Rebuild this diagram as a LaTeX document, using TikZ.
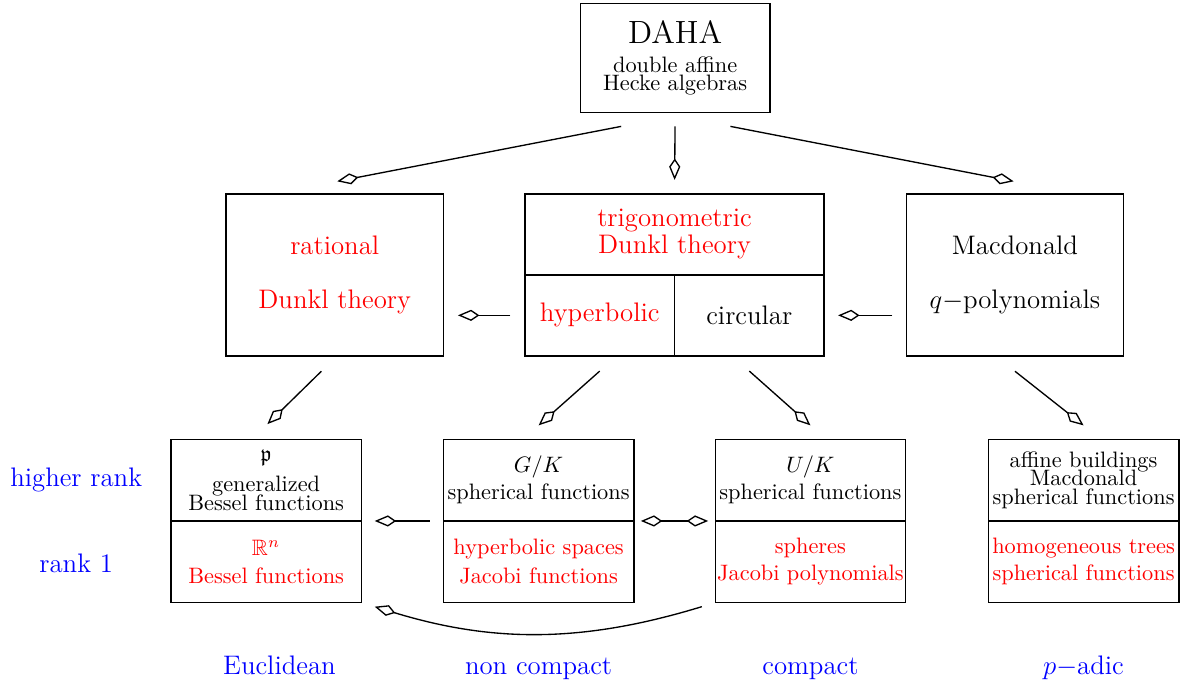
\documentclass[12pt,tikz,border=0pt]{standalone}
\usepackage{amssymb}
\usetikzlibrary{arrows.meta,positioning}

\tikzset{
  tipk/.tip={Kite[open,length=9.6pt,width=5pt,inset=3.7pt]},
  incl/.style={-tipk},
  gap/.style={shorten <=#1, shorten >=#1},
  box/.style={draw, inner sep=0pt, outer sep=0pt, align=center},
  bigbox/.style={box, minimum width=3.42cm, minimum height=2.55cm},
  halfbox/.style={box, font=\footnotesize, minimum width=3cm, minimum height=1.285cm},
  cell/.style={inner sep=0pt, outer sep=0pt, minimum width=2.355cm, minimum height=1.275cm},
  lbl/.style={text=blue},
}

\begin{document}
\begin{tikzpicture}[semithick]
        \useasboundingbox (0,0) rectangle (18.61,-10.80);
        % top
        \node[box, font=\footnotesize, minimum width=2.99cm, minimum height=1.72cm] (daha) at (10.63,-0.91)
            {{\large DAHA}\\[1pt] double affine\\[-3.6pt] Hecke algebras};
        % middle row
        \node[bigbox, text=red] (rational) at (5.27,-4.33) {rational\\[9.5pt] Dunkl theory};
        \node[box, text=red, minimum width=4.71cm, minimum height=1.275cm] (trigtop) at (10.62,-3.69)
            {trigonometric\\[-2.5pt] Dunkl theory};
        \node[cell, text=red, below right=0cm and 0cm of trigtop.south west] (hyper) {hyperbolic};
        \node[cell, right=0cm of hyper] (circ) {circular};
        \draw (hyper.north west) rectangle (circ.south east);
        \draw[thin] (hyper.north east) -- (hyper.south east);
        \node[bigbox] (mac) at (15.98,-4.33) {Macdonald\\[9.5pt] $q-$polynomials};
        % bottom row
        \node[halfbox] (b1top) at (4.19,-7.56) {$\mathfrak p$\\[1.4pt] generalized\\[-3.3pt] Bessel functions};
        \node[halfbox, text=red, below=0cm of b1top] (b1bot) {$\mathbb R^n$\\[0.5pt] Bessel functions};
        \node[halfbox] (b2top) at (8.48,-7.56) {$G/K$\\ spherical functions};
        \node[halfbox, text=red, below=0cm of b2top] (b2bot) {hyperbolic spaces\\[1pt] Jacobi functions};
        \node[halfbox] (b3top) at (12.76,-7.56) {$U/K$\\ spherical functions};
        \node[halfbox, text=red, below=0cm of b3top] (b3bot) {spheres\\ Jacobi polynomials};
        \node[halfbox] (b4top) at (17.06,-7.56) {affine buildings\\[-3.6pt] Macdonald\\[-3.6pt] spherical functions};
        \node[halfbox, text=red, below=0cm of b4top] (b4bot) {homogeneous trees\\ spherical functions};
        % labels
        \node[lbl] (hrank) at (1.2,-7.56) {higher rank};
        \node[lbl] (rank1) at (1.2,-8.87) {rank 1};
        \node[lbl, anchor=base] (eucl) at ([xshift=0.21cm,yshift=-1.125cm]b1bot.south) {Euclidean};
        \node[lbl, anchor=base] (noncpt) at ([yshift=-1.125cm]b2bot.south) {non compact};
        \node[lbl, anchor=base] (cpt) at ([yshift=-1.125cm]b3bot.south) {compact};
        \node[lbl, anchor=base] (padic) at ([yshift=-1.125cm]b4bot.south) {$p-$adic};
        % arrows
        \draw[incl] ([xshift=-0.85cm,yshift=-0.22cm]daha.south) -- ([xshift=0.04cm,yshift=0.2cm]rational.north);
        \draw[incl, gap=0.22cm] (daha.south) -- (trigtop.north);
        \draw[incl] ([xshift=0.87cm,yshift=-0.22cm]daha.south) -- ([xshift=-0.02cm,yshift=0.2cm]mac.north);
        \draw[incl, gap=0.23cm] (hyper.west) -- (hyper.west -| rational.east);
        \draw[incl, gap=0.22cm] (circ.east -| mac.west) -- (circ.east);
        \draw[incl] ([xshift=-0.21cm,yshift=-0.24cm]rational.south) -- ([xshift=0.02cm,yshift=0.24cm]b1top.north);
        \draw[incl] ([yshift=-0.24cm]hyper.south) -- ([yshift=0.22cm]b2top.north);
        \draw[incl] ([yshift=-0.24cm]circ.south) -- ([yshift=0.22cm]b3top.north);
        \draw[incl] ([yshift=-0.24cm]mac.south) -- ([yshift=0.22cm]b4top.north);
        \draw[incl, gap=0.21cm] (b2top.south west) -- (b1top.south east);
        \draw[tipk-tipk, gap=0.11cm] (b2top.south east) -- (b3top.south west);
        \draw[incl, gap=0.22cm] (b3bot.south west) to[bend left=17] (b1bot.south east);
\end{tikzpicture}
\end{document}
